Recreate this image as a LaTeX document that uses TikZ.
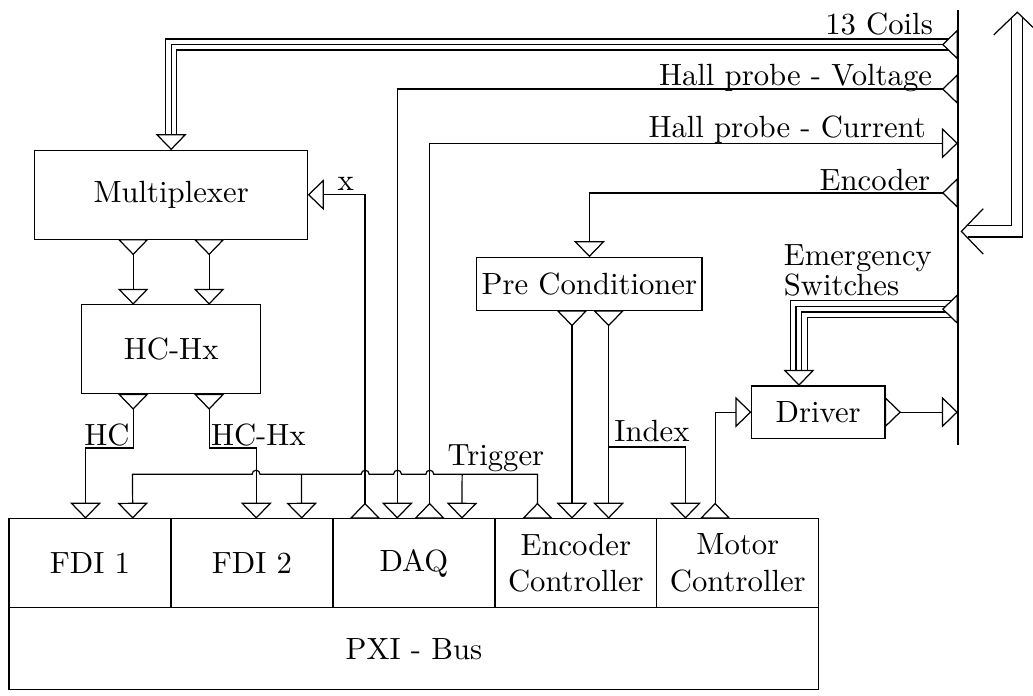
\documentclass[tikz,border=0pt]{standalone}
\usetikzlibrary{arrows.meta, positioning, calc}

\begin{document}
\begin{tikzpicture}[
    block/.style={rectangle, draw, inner sep=0pt, outer sep=0pt, align=center},
    cell/.style={block, minimum width=1.855cm, minimum height=1.02cm},
    lbl/.style={inner sep=0pt},
    link/.style={{Triangle[reversed, length=5.2pt, width=10pt, fill=white]}-{Triangle[length=5.2pt, width=10pt, fill=white]}},
    tap/.style={-{Triangle[length=5.2pt, width=10pt, fill=white]}},
    ghost/.style={white, {Triangle[reversed, length=5.2pt, width=10pt, fill=white, color=black]}-{Triangle[length=5.2pt, width=10pt, fill=white, color=black]}},
]
\useasboundingbox (0,0) rectangle (11.83,7.96);

% PXI crate
\node[cell] (fdi1) at (1.03,1.51) {FDI 1};
\node[cell, right=0pt of fdi1] (fdi2) {FDI 2};
\node[cell, right=0pt of fdi2] (daq) {DAQ};
\node[cell, right=0pt of daq] (ectl) {Encoder\\Controller};
\node[cell, right=0pt of ectl] (mctl) {Motor\\Controller};
\node[block, minimum width=9.275cm, minimum height=0.94cm, anchor=north west] (pxi) at (fdi1.south west) {PXI - Bus};

% Boxes
\node[block, minimum width=3.13cm, minimum height=1.02cm] (mux) at (1.96,5.73) {Multiplexer};
\node[block, minimum width=2.05cm, minimum height=1.02cm] (hchx) at (1.96,3.96) {HC-Hx};
\node[block, minimum width=2.58cm, minimum height=0.61cm] (pre) at (6.75,4.71) {Pre Conditioner};
\node[block, minimum width=1.53cm, minimum height=0.60cm] (drv) at (9.37,3.24) {Driver};

% Connector strip
\coordinate (stop) at (10.97,7.84);
\coordinate (sbot) at (10.97,2.86);
\coordinate (coils) at (10.97,7.45);
\coordinate (hallv) at (10.97,6.94);
\coordinate (halli) at (10.97,6.32);
\coordinate (enc) at (10.97,5.75);
\coordinate (emsw) at (10.97,4.42);
\coordinate (mot) at (10.97,3.24);
\draw (stop) -- (sbot);

% --- Signals from the strip ---
\foreach \d in {-0.063,0.063}
  \draw ($(coils)+(0,\d)$) -| ($(mux.north)+(-\d,0.18)$);
\draw[link] (coils) -| (mux.north);
\node[lbl, anchor=base east] (lcoils) at (10.69,7.57) {13 Coils};

\draw[link] (hallv) -| ([xshift=-0.19cm]daq.north);
\node[lbl, anchor=base east] (lhallv) at (10.68,6.98) {Hall probe - Voltage};

\draw[link] ([xshift=0.18cm]daq.north) |- (halli);
\node[lbl, anchor=base east] (lhalli) at (10.61,6.38) {Hall probe - Current};

\draw[link] (enc) -| (pre.north);
\node[lbl, anchor=base east] (lenc) at (10.66,5.78) {Encoder};

\foreach \d in {-0.098,-0.033,0.033,0.098}
  \draw ($(emsw)+(0,\d)$) -| ($(drv.north)+(-0.22-\d,0.18)$);
\draw[ghost] (emsw) -| ([xshift=-0.22cm]drv.north);
\node[lbl, anchor=north west, align=left] (lemsw) at (8.97,5.16) {Emergency\\[-2.3pt]Switches};

% --- Multiplexer / HC-Hx ---
\draw[link] ([xshift=-0.56cm]daq.north) |- (mux.east);
\node[lbl, anchor=base] (lx) at (3.96,5.78) {x};

\foreach \s in {-0.435,0.435}
  \draw[link] ([xshift=\s cm]mux.south) -- ([xshift=\s cm]hchx.north);

\draw[link] ([xshift=-0.435cm]hchx.south) -- ++(0,-0.62) -| ([xshift=-0.05cm]fdi1.north);
\node[lbl, anchor=base east] (lhc) at (1.49,2.86) {HC};
\draw[link] ([xshift=0.435cm]hchx.south) -- ++(0,-0.62) -| ([xshift=0.05cm]fdi2.north);
\node[lbl, anchor=base west] (lhchx) at (2.41,2.86) {HC-Hx};

% --- Trigger ---
\draw[link] ([xshift=-0.44cm]ectl.north) |- (4.9675,2.53) arc (0:180:0.045)
  -- (4.5975,2.53) arc (0:180:0.045)
  -- (4.2275,2.53) arc (0:180:0.045)
  -- (2.9775,2.53) arc (0:180:0.045)
  -- (1.5175,2.53) -- ([xshift=0.49cm]fdi1.north);
\coordinate (tfdi) at (3.4525,2.53);
\coordinate (tdaq) at (5.2925,2.53);
\draw[tap] (tfdi) -- ([xshift=0.57cm]fdi2.north);
\draw[tap] (tdaq) -- ([xshift=0.55cm]daq.north);
\node[lbl, anchor=base west] (ltrig) at (5.12,2.63) {Trigger};

% --- Encoder / Motor ---
\foreach \s in {-0.2,0.22}
  \draw[link] ([xshift=\s cm]pre.south) -- ([xshift=\s cm]pre.south |- ectl.north);
\coordinate (idx) at (6.97,2.84);
\draw[tap] (idx) -| ([xshift=-0.6cm]mctl.north);
\node[lbl, anchor=base west] (lidx) at (7.03,2.90) {Index};

\draw[link] ([xshift=-0.26cm]mctl.north) |- (drv.west);
\draw[link] (drv.east) -- (mot);

% Loop back
\coordinate (loopa) at (11.01,5.31);
\coordinate (loopb) at (11.65,7.82);
\draw[double, double distance=3.2pt] ($(loopa)+(0.07,0)$) -| ($(loopb)+(0,-0.07)$);
\draw ($(loopa)+(0.25,0.26)$) -- (loopa) -- ($(loopa)+(0.25,-0.26)$);
\draw ($(loopb)+(-0.27,-0.26)$) -- (loopb) -- ($(loopb)+(0.27,-0.26)$);

\end{tikzpicture}
\end{document}
